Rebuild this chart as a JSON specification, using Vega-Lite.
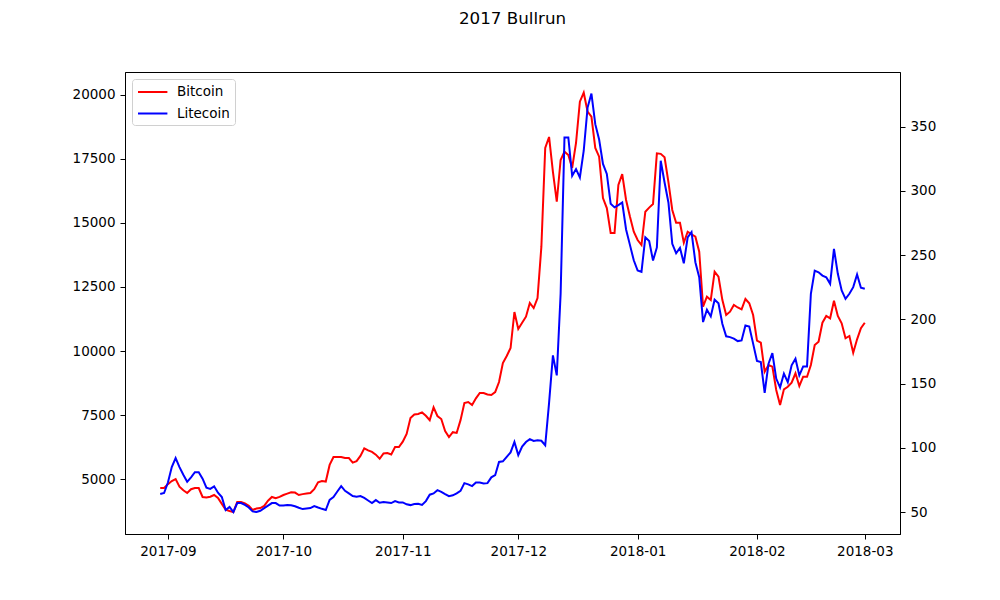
{
  "$schema": "https://vega.github.io/schema/vega-lite/v6.json",
  "width": 775,
  "height": 462,
  "autosize": {"type": "none"},
  "padding": {"left": 125, "top": 72, "right": 100, "bottom": 66},
  "background": "white",
  "title": {
    "text": "2017 Bullrun",
    "font": "DejaVu Sans",
    "fontSize": 16.7,
    "fontWeight": "normal",
    "color": "black",
    "offset": 44
  },
  "config": {
    "view": {"stroke": "black", "strokeWidth": 1},
    "axis": {
      "labelFont": "DejaVu Sans",
      "labelFontSize": 13.5,
      "labelColor": "black",
      "domainColor": "black",
      "domainWidth": 1,
      "tickColor": "black",
      "tickWidth": 1,
      "tickSize": 5,
      "labelPadding": 5,
      "grid": false
    },
    "legend": {
      "orient": "top-left",
      "offset": 7,
      "padding": 5,
      "fillColor": "white",
      "strokeColor": "#d0d0d0",
      "cornerRadius": 3,
      "symbolType": "M-1,0H3.2",
      "symbolSize": 196,
      "symbolStrokeWidth": 2,
      "labelOffset": 24,
      "rowPadding": 6.5,
      "labelFont": "DejaVu Sans",
      "labelFontSize": 13.5,
      "labelColor": "black"
    }
  },
  "data": {
    "values": [
      {"date": "2017-08-30", "btc": 4650, "ltc": 64},
      {"date": "2017-08-31", "btc": 4650, "ltc": 64.8},
      {"date": "2017-09-01", "btc": 4800, "ltc": 73},
      {"date": "2017-09-02", "btc": 4920, "ltc": 85},
      {"date": "2017-09-03", "btc": 5000, "ltc": 92},
      {"date": "2017-09-04", "btc": 4700, "ltc": 85},
      {"date": "2017-09-05", "btc": 4560, "ltc": 79},
      {"date": "2017-09-06", "btc": 4453, "ltc": 73.5},
      {"date": "2017-09-07", "btc": 4600, "ltc": 77},
      {"date": "2017-09-08", "btc": 4650, "ltc": 81},
      {"date": "2017-09-09", "btc": 4648, "ltc": 81},
      {"date": "2017-09-10", "btc": 4297, "ltc": 76},
      {"date": "2017-09-11", "btc": 4280, "ltc": 69},
      {"date": "2017-09-12", "btc": 4310, "ltc": 68},
      {"date": "2017-09-13", "btc": 4375, "ltc": 70},
      {"date": "2017-09-14", "btc": 4260, "ltc": 65},
      {"date": "2017-09-15", "btc": 4030, "ltc": 61.7},
      {"date": "2017-09-16", "btc": 3800, "ltc": 51.5},
      {"date": "2017-09-17", "btc": 3750, "ltc": 54},
      {"date": "2017-09-18", "btc": 3711, "ltc": 50},
      {"date": "2017-09-19", "btc": 4100, "ltc": 57},
      {"date": "2017-09-20", "btc": 4100, "ltc": 57},
      {"date": "2017-09-21", "btc": 4050, "ltc": 55.5},
      {"date": "2017-09-22", "btc": 3950, "ltc": 53.5},
      {"date": "2017-09-23", "btc": 3789, "ltc": 50.5},
      {"date": "2017-09-24", "btc": 3850, "ltc": 50},
      {"date": "2017-09-25", "btc": 3867, "ltc": 51},
      {"date": "2017-09-26", "btc": 3950, "ltc": 53},
      {"date": "2017-09-27", "btc": 4150, "ltc": 55},
      {"date": "2017-09-28", "btc": 4297, "ltc": 57},
      {"date": "2017-09-29", "btc": 4250, "ltc": 57},
      {"date": "2017-09-30", "btc": 4300, "ltc": 55},
      {"date": "2017-10-01", "btc": 4375, "ltc": 55},
      {"date": "2017-10-02", "btc": 4430, "ltc": 55.4},
      {"date": "2017-10-03", "btc": 4480, "ltc": 55.2},
      {"date": "2017-10-04", "btc": 4470, "ltc": 54.5},
      {"date": "2017-10-05", "btc": 4375, "ltc": 53.3},
      {"date": "2017-10-06", "btc": 4410, "ltc": 52.3},
      {"date": "2017-10-07", "btc": 4430, "ltc": 52.8},
      {"date": "2017-10-08", "btc": 4453, "ltc": 53.1},
      {"date": "2017-10-09", "btc": 4600, "ltc": 54.7},
      {"date": "2017-10-10", "btc": 4870, "ltc": 53.5},
      {"date": "2017-10-11", "btc": 4920, "ltc": 52.5},
      {"date": "2017-10-12", "btc": 4900, "ltc": 51.6},
      {"date": "2017-10-13", "btc": 5550, "ltc": 59.5},
      {"date": "2017-10-14", "btc": 5860, "ltc": 61.7},
      {"date": "2017-10-15", "btc": 5860, "ltc": 66},
      {"date": "2017-10-16", "btc": 5860, "ltc": 70.2},
      {"date": "2017-10-17", "btc": 5820, "ltc": 66.5},
      {"date": "2017-10-18", "btc": 5820, "ltc": 64.5},
      {"date": "2017-10-19", "btc": 5640, "ltc": 62.5},
      {"date": "2017-10-20", "btc": 5700, "ltc": 62},
      {"date": "2017-10-21", "btc": 5900, "ltc": 62.4},
      {"date": "2017-10-22", "btc": 6200, "ltc": 61},
      {"date": "2017-10-23", "btc": 6120, "ltc": 59},
      {"date": "2017-10-24", "btc": 6060, "ltc": 57},
      {"date": "2017-10-25", "btc": 5950, "ltc": 59.3},
      {"date": "2017-10-26", "btc": 5790, "ltc": 57.2},
      {"date": "2017-10-27", "btc": 6000, "ltc": 57.8},
      {"date": "2017-10-28", "btc": 6016, "ltc": 57.5},
      {"date": "2017-10-29", "btc": 5960, "ltc": 57},
      {"date": "2017-10-30", "btc": 6250, "ltc": 58.5},
      {"date": "2017-10-31", "btc": 6250, "ltc": 57.5},
      {"date": "2017-11-01", "btc": 6460, "ltc": 57.5},
      {"date": "2017-11-02", "btc": 6760, "ltc": 56},
      {"date": "2017-11-03", "btc": 7380, "ltc": 55.4},
      {"date": "2017-11-04", "btc": 7520, "ltc": 56.3},
      {"date": "2017-11-05", "btc": 7540, "ltc": 56.5},
      {"date": "2017-11-06", "btc": 7600, "ltc": 55.5},
      {"date": "2017-11-07", "btc": 7470, "ltc": 58.5},
      {"date": "2017-11-08", "btc": 7300, "ltc": 63.5},
      {"date": "2017-11-09", "btc": 7800, "ltc": 64.5},
      {"date": "2017-11-10", "btc": 7460, "ltc": 67},
      {"date": "2017-11-11", "btc": 7344, "ltc": 65.7},
      {"date": "2017-11-12", "btc": 6875, "ltc": 64},
      {"date": "2017-11-13", "btc": 6640, "ltc": 62.4},
      {"date": "2017-11-14", "btc": 6830, "ltc": 63},
      {"date": "2017-11-15", "btc": 6800, "ltc": 64.5},
      {"date": "2017-11-16", "btc": 7300, "ltc": 66.5},
      {"date": "2017-11-17", "btc": 7969, "ltc": 72.5},
      {"date": "2017-11-18", "btc": 8008, "ltc": 71.5},
      {"date": "2017-11-19", "btc": 7890, "ltc": 70.2},
      {"date": "2017-11-20", "btc": 8150, "ltc": 73},
      {"date": "2017-11-21", "btc": 8359, "ltc": 73},
      {"date": "2017-11-22", "btc": 8359, "ltc": 72.3},
      {"date": "2017-11-23", "btc": 8300, "ltc": 72.5},
      {"date": "2017-11-24", "btc": 8281, "ltc": 77},
      {"date": "2017-11-25", "btc": 8398, "ltc": 78.7},
      {"date": "2017-11-26", "btc": 8789, "ltc": 89},
      {"date": "2017-11-27", "btc": 9531, "ltc": 89.5},
      {"date": "2017-11-28", "btc": 9805, "ltc": 93},
      {"date": "2017-11-29", "btc": 10117, "ltc": 96.4},
      {"date": "2017-11-30", "btc": 11523, "ltc": 104.6},
      {"date": "2017-12-01", "btc": 10860, "ltc": 94.3},
      {"date": "2017-12-02", "btc": 11100, "ltc": 101},
      {"date": "2017-12-03", "btc": 11340, "ltc": 104.5},
      {"date": "2017-12-04", "btc": 11875, "ltc": 106.8},
      {"date": "2017-12-05", "btc": 11680, "ltc": 105.3},
      {"date": "2017-12-06", "btc": 12070, "ltc": 105.8},
      {"date": "2017-12-07", "btc": 14075, "ltc": 105.5},
      {"date": "2017-12-08", "btc": 17930, "ltc": 102},
      {"date": "2017-12-09", "btc": 18360, "ltc": 135},
      {"date": "2017-12-10", "btc": 17000, "ltc": 172},
      {"date": "2017-12-11", "btc": 15830, "ltc": 156.4},
      {"date": "2017-12-12", "btc": 17460, "ltc": 220},
      {"date": "2017-12-13", "btc": 17785, "ltc": 341.6},
      {"date": "2017-12-14", "btc": 17656, "ltc": 341.6},
      {"date": "2017-12-15", "btc": 17150, "ltc": 311.8},
      {"date": "2017-12-16", "btc": 18125, "ltc": 317},
      {"date": "2017-12-17", "btc": 19740, "ltc": 310.5},
      {"date": "2017-12-18", "btc": 20090, "ltc": 331.3},
      {"date": "2017-12-19", "btc": 19350, "ltc": 364.9},
      {"date": "2017-12-20", "btc": 19150, "ltc": 375.8},
      {"date": "2017-12-21", "btc": 17930, "ltc": 352},
      {"date": "2017-12-22", "btc": 17590, "ltc": 340},
      {"date": "2017-12-23", "btc": 15975, "ltc": 321},
      {"date": "2017-12-24", "btc": 15585, "ltc": 313.2},
      {"date": "2017-12-25", "btc": 14610, "ltc": 290},
      {"date": "2017-12-26", "btc": 14610, "ltc": 287.2},
      {"date": "2017-12-27", "btc": 16485, "ltc": 289},
      {"date": "2017-12-28", "btc": 16910, "ltc": 291},
      {"date": "2017-12-29", "btc": 15900, "ltc": 270},
      {"date": "2017-12-30", "btc": 15250, "ltc": 258},
      {"date": "2017-12-31", "btc": 14660, "ltc": 246},
      {"date": "2018-01-01", "btc": 14335, "ltc": 238},
      {"date": "2018-01-02", "btc": 14140, "ltc": 237},
      {"date": "2018-01-03", "btc": 15441, "ltc": 263.9},
      {"date": "2018-01-04", "btc": 15600, "ltc": 261},
      {"date": "2018-01-05", "btc": 15742, "ltc": 245.8},
      {"date": "2018-01-06", "btc": 17722, "ltc": 256},
      {"date": "2018-01-07", "btc": 17700, "ltc": 323.5},
      {"date": "2018-01-08", "btc": 17566, "ltc": 306.6},
      {"date": "2018-01-09", "btc": 16600, "ltc": 291},
      {"date": "2018-01-10", "btc": 15508, "ltc": 258.8},
      {"date": "2018-01-11", "btc": 15012, "ltc": 251.5},
      {"date": "2018-01-12", "btc": 15012, "ltc": 255.7},
      {"date": "2018-01-13", "btc": 14230, "ltc": 243.7},
      {"date": "2018-01-14", "btc": 14660, "ltc": 263.9},
      {"date": "2018-01-15", "btc": 14560, "ltc": 268},
      {"date": "2018-01-16", "btc": 14465, "ltc": 244.5},
      {"date": "2018-01-17", "btc": 13879, "ltc": 232.8},
      {"date": "2018-01-18", "btc": 11730, "ltc": 197.9},
      {"date": "2018-01-19", "btc": 12120, "ltc": 207.5},
      {"date": "2018-01-20", "btc": 11992, "ltc": 202.3},
      {"date": "2018-01-21", "btc": 13098, "ltc": 215.3},
      {"date": "2018-01-22", "btc": 12902, "ltc": 212.6},
      {"date": "2018-01-23", "btc": 12000, "ltc": 196.6},
      {"date": "2018-01-24", "btc": 11406, "ltc": 186.8},
      {"date": "2018-01-25", "btc": 11535, "ltc": 186.2},
      {"date": "2018-01-26", "btc": 11797, "ltc": 185},
      {"date": "2018-01-27", "btc": 11700, "ltc": 183.1},
      {"date": "2018-01-28", "btc": 11629, "ltc": 183.6},
      {"date": "2018-01-29", "btc": 12031, "ltc": 195.3},
      {"date": "2018-01-30", "btc": 11863, "ltc": 194.5},
      {"date": "2018-01-31", "btc": 11406, "ltc": 181.1},
      {"date": "2018-02-01", "btc": 10402, "ltc": 167.6},
      {"date": "2018-02-02", "btc": 10324, "ltc": 166.8},
      {"date": "2018-02-03", "btc": 9191, "ltc": 142.7},
      {"date": "2018-02-04", "btc": 9453, "ltc": 165.5},
      {"date": "2018-02-05", "btc": 9387, "ltc": 173.8},
      {"date": "2018-02-06", "btc": 8477, "ltc": 153.9},
      {"date": "2018-02-07", "btc": 7891, "ltc": 146.9},
      {"date": "2018-02-08", "btc": 8504, "ltc": 157.8},
      {"date": "2018-02-09", "btc": 8605, "ltc": 151.2},
      {"date": "2018-02-10", "btc": 8762, "ltc": 164.2},
      {"date": "2018-02-11", "btc": 9129, "ltc": 169.4},
      {"date": "2018-02-12", "btc": 8633, "ltc": 156.4},
      {"date": "2018-02-13", "btc": 8996, "ltc": 163.4},
      {"date": "2018-02-14", "btc": 8996, "ltc": 163.4},
      {"date": "2018-02-15", "btc": 9453, "ltc": 219.9},
      {"date": "2018-02-16", "btc": 10234, "ltc": 238},
      {"date": "2018-02-17", "btc": 10363, "ltc": 236.7},
      {"date": "2018-02-18", "btc": 11105, "ltc": 234.1},
      {"date": "2018-02-19", "btc": 11367, "ltc": 232.8},
      {"date": "2018-02-20", "btc": 11277, "ltc": 227.7},
      {"date": "2018-02-21", "btc": 11965, "ltc": 254.9},
      {"date": "2018-02-22", "btc": 11367, "ltc": 235.5},
      {"date": "2018-02-23", "btc": 11082, "ltc": 222.5},
      {"date": "2018-02-24", "btc": 10496, "ltc": 216},
      {"date": "2018-02-25", "btc": 10586, "ltc": 219.9},
      {"date": "2018-02-26", "btc": 9934, "ltc": 225.1},
      {"date": "2018-02-27", "btc": 10457, "ltc": 234.9},
      {"date": "2018-02-28", "btc": 10887, "ltc": 224.6},
      {"date": "2018-03-01", "btc": 11105, "ltc": 223.8}
    ]
  },
  "encoding": {
    "x": {
      "field": "date",
      "type": "temporal",
      "scale": {
        "type": "utc",
        "domain": [
          {"year": 2017, "month": 8, "date": 20, "hours": 20, "minutes": 24, "utc": true},
          {"year": 2018, "month": 3, "date": 10, "hours": 3, "minutes": 36, "utc": true}
        ]
      },
      "axis": {
        "title": null,
        "labelExpr": "utcFormat(datum.value, '%Y-%m')",
        "labelFlush": false,
        "values": [
          {"year": 2017, "month": 9, "date": 1, "utc": true},
          {"year": 2017, "month": 10, "date": 1, "utc": true},
          {"year": 2017, "month": 11, "date": 1, "utc": true},
          {"year": 2017, "month": 12, "date": 1, "utc": true},
          {"year": 2018, "month": 1, "date": 1, "utc": true},
          {"year": 2018, "month": 2, "date": 1, "utc": true},
          {"year": 2018, "month": 3, "date": 1, "utc": true}
        ]
      }
    }
  },
  "layer": [
    {
      "mark": {"type": "line", "strokeWidth": 2},
      "encoding": {
        "y": {
          "field": "btc",
          "type": "quantitative",
          "scale": {"domain": [2852, 20898], "nice": false, "zero": false},
          "axis": {
            "title": null,
            "orient": "left",
            "format": "d",
            "values": [5000, 7500, 10000, 12500, 15000, 17500, 20000]
          }
        },
        "color": {
          "datum": "Bitcoin",
          "type": "nominal",
          "scale": {"domain": ["Bitcoin", "Litecoin"], "range": ["#ff0000", "#0000ff"]},
          "legend": {"title": null}
        }
      }
    },
    {
      "mark": {"type": "line", "strokeWidth": 2},
      "encoding": {
        "y": {
          "field": "ltc",
          "type": "quantitative",
          "scale": {"domain": [32.9, 392.6], "nice": false, "zero": false},
          "axis": {
            "title": null,
            "orient": "right",
            "format": "d",
            "values": [50, 100, 150, 200, 250, 300, 350]
          }
        },
        "color": {"datum": "Litecoin", "type": "nominal"}
      }
    }
  ],
  "resolve": {"scale": {"y": "independent"}}
}
